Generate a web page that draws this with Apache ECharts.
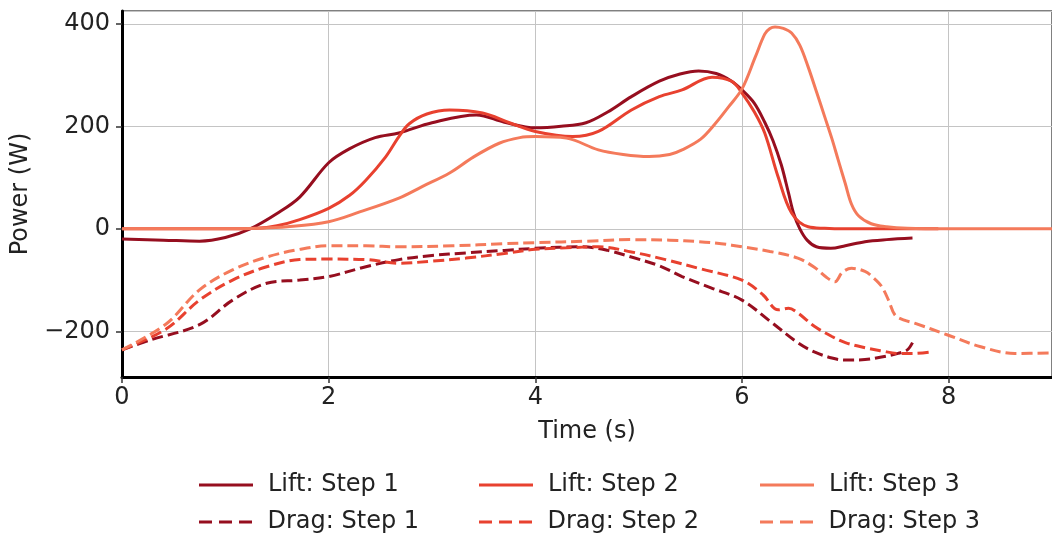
<!DOCTYPE html>
<html>
<head>
<meta charset="utf-8">
<script src="https://cdn.jsdelivr.net/npm/echarts@6/dist/echarts.min.js"></script>
<style>
  html, body { margin: 0; padding: 0; background: #fff; }
  #chart { width: 1052px; height: 539px; }
</style>
</head>
<body>
<div id="chart"></div>
<script>
// ---- data (time in s, power in W) ----
const lift1T = [0, 0.4, 0.75, 1.0, 1.24, 1.5, 1.72, 2.0, 2.2, 2.45, 2.68, 3.0, 3.43, 3.7, 4.0, 4.25, 4.49, 4.7, 4.93, 5.2, 5.4, 5.58, 5.75, 5.9, 6.0, 6.12, 6.22, 6.3, 6.38, 6.45, 6.5, 6.56, 6.63, 6.72, 6.86, 7.0, 7.19, 7.4, 7.65];
const lift1P = [-20, -22, -24, -17, 0, 30, 62, 129, 156, 178, 187, 207, 222, 208, 197, 200, 207, 228, 258, 288, 302, 308, 303, 288, 271, 245, 208, 172, 125, 70, 30, 0, -22, -35, -38, -33, -25, -21, -18];

const lift2T = [0, 0.5, 1.0, 1.3, 1.5, 1.72, 2.0, 2.2, 2.36, 2.55, 2.68, 2.78, 2.95, 3.17, 3.49, 3.75, 4.0, 4.36, 4.61, 4.93, 5.2, 5.42, 5.71, 5.9, 6.0, 6.12, 6.22, 6.35, 6.48, 6.64, 6.8, 7.0, 7.5, 7.9];
const lift2P = [0, 0, 0, 1, 6, 18, 40, 65, 95, 140, 180, 205, 224, 232, 226, 207, 190, 180, 190, 232, 258, 271, 296, 288, 265, 228, 187, 101, 31, 4, 1, 0, 0, 0];

const lift3T = [0, 0.5, 1.0, 1.3, 1.6, 2.0, 2.3, 2.68, 2.9, 3.17, 3.4, 3.65, 3.85, 4.0, 4.3, 4.61, 4.85, 5.1, 5.3, 5.42, 5.6, 5.74, 5.87, 6.0, 6.13, 6.22, 6.27, 6.32, 6.4, 6.48, 6.56, 6.64, 6.72, 6.8, 6.87, 6.93, 7.0, 7.06, 7.13, 7.25, 7.4, 7.6, 8.0, 9.0];
const lift3P = [0, 0, 0, 1, 4, 14, 33, 60, 82, 109, 140, 167, 178, 180, 177, 154, 145, 141, 145, 154, 175, 205, 238, 273, 336, 380, 391, 394, 391, 382, 358, 316, 268, 219, 176, 135, 88, 48, 25, 10, 4, 1, 0, 0];

const drag1T = [0, 0.27, 0.75, 1.07, 1.4, 1.72, 2.0, 2.36, 2.68, 3.0, 3.33, 3.7, 4.0, 4.45, 4.7, 4.93, 5.2, 5.42, 5.7, 6.0, 6.27, 6.54, 6.7, 6.87, 7.0, 7.19, 7.35, 7.51, 7.6, 7.65];
const drag1P = [-236, -217, -187, -139, -106, -100, -93, -74, -60, -52, -47, -42, -38, -35, -42, -55, -72, -93, -115, -139, -180, -222, -240, -252, -256, -255, -250, -243, -236, -222];

const drag2T = [0, 0.43, 0.75, 1.07, 1.4, 1.72, 2.0, 2.36, 2.68, 3.0, 3.33, 3.7, 4.0, 4.3, 4.61, 4.93, 5.26, 5.6, 6.0, 6.2, 6.35, 6.45, 6.54, 6.7, 6.87, 7.0, 7.19, 7.35, 7.51, 7.65, 7.83];
const drag2P = [-236, -195, -139, -100, -74, -60, -59, -60, -67, -63, -57, -48, -40, -37, -35, -45, -60, -78, -100, -128, -158, -155, -164, -190, -210, -222, -232, -238, -243, -243, -240];

const drag3T = [0, 0.43, 0.75, 1.07, 1.4, 1.72, 2.0, 2.36, 2.68, 3.2, 3.7, 4.0, 4.5, 4.93, 5.3, 5.58, 5.8, 6.0, 6.27, 6.54, 6.7, 6.82, 6.9, 6.97, 7.06, 7.19, 7.27, 7.35, 7.42, 7.48, 7.57, 7.67, 7.99, 8.31, 8.64, 9.0];
const drag3P = [-236, -185, -119, -80, -55, -40, -33, -33, -35, -33, -29, -27, -24, -21, -22, -25, -29, -35, -44, -57, -75, -95, -103, -85, -77, -83, -95, -112, -140, -168, -178, -184, -207, -230, -243, -242];

const seriesNames = ['Lift: Step 1', 'Lift: Step 2', 'Lift: Step 3', 'Drag: Step 1', 'Drag: Step 2', 'Drag: Step 3'];
const xTicks = [0, 2, 4, 6, 8];
const yTicks = [-200, 0, 200, 400];

// ---- styles ----
const colors = ['#960e1f', '#e8412f', '#f47a5b'];
const FONT = 'DejaVu Sans';
const solidIcon = 'path://M0,0h54v3h-54z';
const dashIcon = 'path://M0,0h13v3h-13z M20,0h13v3h-13z M40,0h13v3h-13z';

function pairs(ts, ps) { return ts.map((t, i) => [t, ps[i]]); }

const dataSets = [
  pairs(lift1T, lift1P), pairs(lift2T, lift2P), pairs(lift3T, lift3P),
  pairs(drag1T, drag1P), pairs(drag2T, drag2P), pairs(drag3T, drag3P)
];

const series = dataSets.map((d, i) => ({
  name: seriesNames[i],
  type: 'line',
  data: d,
  smooth: 0.35,
  symbol: 'none',
  showSymbol: false,
  silent: true,
  animation: false,
  lineStyle: {
    color: colors[i % 3],
    width: 3,
    type: i < 3 ? 'solid' : [11, 5]
  },
  itemStyle: { color: colors[i % 3] },
  z: 3
}));

const legendLefts = [194, 474, 755];
const legends = seriesNames.map((name, i) => ({
  left: legendLefts[i % 3],
  top: i < 3 ? 467 : 504,
  orient: 'horizontal',
  icon: i < 3 ? solidIcon : dashIcon,
  itemWidth: 54,
  itemHeight: 3,
  data: [name],
  selectedMode: false,
  textStyle: { fontFamily: FONT, fontSize: 24, color: '#222', lineHeight: 26, padding: [0, 0, 0, 10] }
}));

const chart = echarts.init(document.getElementById('chart'), null, { renderer: 'canvas' });
chart.setOption({
  animation: false,
  backgroundColor: '#fff',
  grid: {
    left: 122, right: -3, top: 11, bottom: 162,
    show: true, borderColor: '#808080', borderWidth: 2, backgroundColor: 'transparent'
  },
  xAxis: {
    type: 'value',
    min: 0, max: 9, interval: 2,
    name: 'Time (s)',
    nameLocation: 'middle',
    nameGap: 43,
    nameTextStyle: { fontFamily: FONT, fontSize: 24, color: '#222' },
    axisLine: { show: true, onZero: false, lineStyle: { color: '#000', width: 3 } },
    axisTick: { show: true, length: 6, lineStyle: { color: '#333', width: 1.5 } },
    axisLabel: {
      fontFamily: FONT, fontSize: 24, color: '#222', margin: 9,
      showMaxLabel: false,
      formatter: v => xTicks.includes(v) ? String(v) : ''
    },
    splitLine: { show: true, lineStyle: { color: '#c4c4c4', width: 1 } }
  },
  yAxis: {
    type: 'value',
    min: -289, max: 425, splitNumber: 3,
    name: 'Power (W)',
    nameLocation: 'middle',
    nameGap: 79,
    nameTextStyle: { fontFamily: FONT, fontSize: 24, color: '#222' },
    axisLine: { show: true, onZero: false, lineStyle: { color: '#000', width: 3 } },
    axisTick: { show: true, length: 6, lineStyle: { color: '#333', width: 1.5 } },
    axisLabel: {
      fontFamily: FONT, fontSize: 24, color: '#222', margin: 12,
      showMinLabel: false, showMaxLabel: false,
      formatter: v => yTicks.includes(v) ? String(v).replace('-', '\u2212') : ''
    },
    splitLine: { show: true, lineStyle: { color: '#c4c4c4', width: 1 } }
  },
  legend: legends,
  series: series
});
</script>
</body>
</html>
